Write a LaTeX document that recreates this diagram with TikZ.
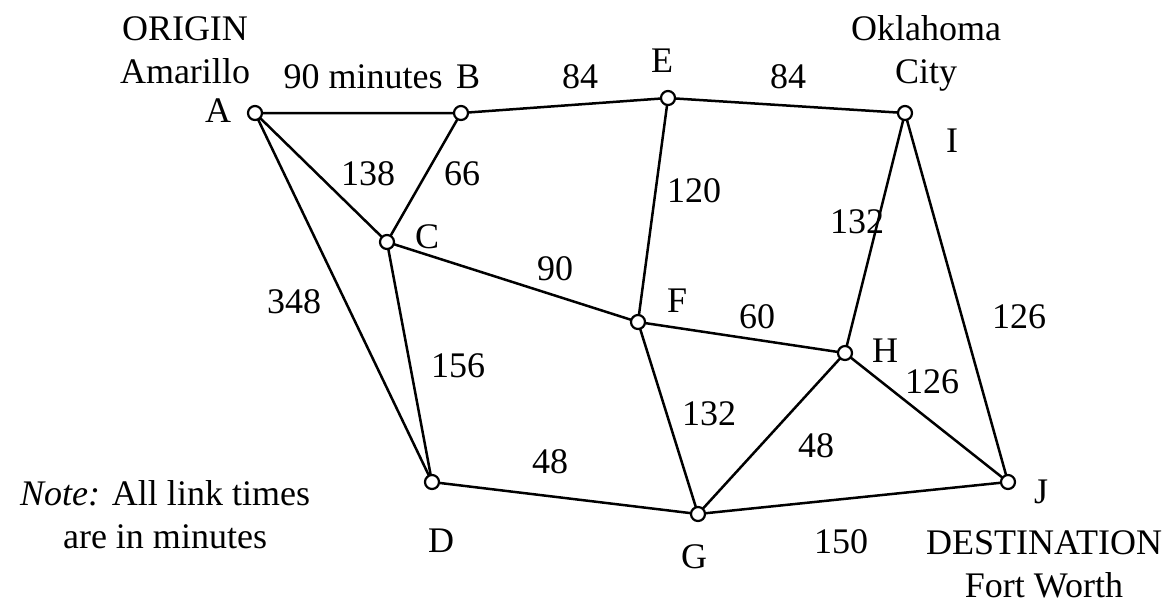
\documentclass[tikz,border=0pt]{standalone}
\usepackage{fontspec}
\setmainfont{Liberation Serif}
\begin{document}
\begin{tikzpicture}[x=0.5pt,y=-0.5pt,
  stop/.style={circle,draw,line width=1.1pt,inner sep=0pt,minimum size=7pt,fill=white},
  link/.style={line width=1.25pt},
  txt/.style={anchor=base,inner sep=0pt,font=\fontsize{18}{21.5}\selectfont}]
 \useasboundingbox (0,0) rectangle (1171,602);
 % links first, stops on top
 \path (255,113) coordinate (a) (461,113) coordinate (b) (668,98) coordinate (e)
       (905,113) coordinate (i) (387,242) coordinate (c) (638,322) coordinate (f)
       (845,353) coordinate (h) (432,482) coordinate (d) (698,514) coordinate (g)
       (1008,482) coordinate (j);
 \draw[link] (a)--(b) (a)--(c) (a)--(d) (b)--(c) (b)--(e) (e)--(i);
 \draw[link] (c)--(f) (c)--(d) (e)--(f) (f)--(h) (f)--(g) (i)--(h) (i)--(j);
 \draw[link] (h)--(g) (h)--(j) (d)--(g) (g)--(j);
 \foreach \n in {a,b,c,d,e,f,g,h,i,j}
   \node[stop] (\n stop) at (\n) {};
 % node letters
 \node[txt] (lA) at (218,122) {A};
 \node[txt] (lB) at (468,88) {B};
 \node[txt] (lC) at (427,248) {C};
 \node[txt] (lD) at (441,552) {D};
 \node[txt] (lE) at (662,72) {E};
 \node[txt] (lF) at (677,312) {F};
 \node[txt] (lG) at (694,568) {G};
 \node[txt] (lH) at (885,362) {H};
 \node[txt] (lI) at (952,152) {I};
 \node[txt] (lJ) at (1041,503) {J};
 % link times
 \node[txt] (tAB) at (363,88) {90 minutes};
 \node[txt] (tBE) at (580,88) {84};
 \node[txt] (tEI) at (788,88) {84};
 \node[txt] (tAC) at (368,185) {138};
 \node[txt] (tBC) at (462,185) {66};
 \node[txt] (tEF) at (694,202) {120};
 \node[txt] (tIH) at (857,233) {132};
 \node[txt] (tCF) at (555,280) {90};
 \node[txt] (tAD) at (294,313) {348};
 \node[txt] (tFH) at (757,328) {60};
 \node[txt] (tIJ) at (1019,328) {126};
 \node[txt] (tCD) at (458,377) {156};
 \node[txt] (tHJ) at (932,393) {126};
 \node[txt] (tFG) at (709,425) {132};
 \node[txt] (tHG) at (816,457) {48};
 \node[txt] (tDG) at (550,473) {48};
 \node[txt] (tGJ) at (841,553) {150};
 % places and note (base = last line)
 \node[txt,align=center] (origin) at (185,83) {ORIGIN\\Amarillo};
 \node[txt,align=center] (okc) at (926,83) {Oklahoma\\City};
 \node[txt,align=center] (dest) at (1044,597) {DESTINATION\\Fort Worth};
 \node[txt,align=center] (note) at (165,548) {\textit{Note:} All link times\\are in minutes};
\end{tikzpicture}
\end{document}
